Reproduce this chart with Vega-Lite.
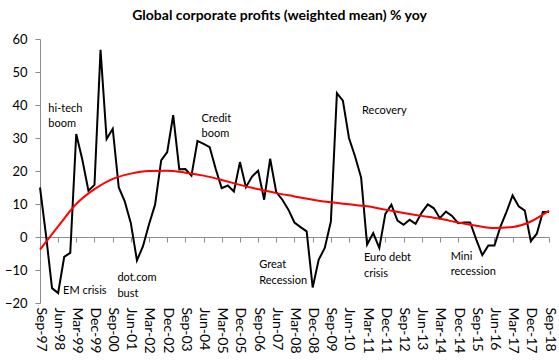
{
  "$schema": "https://vega.github.io/schema/vega-lite/v6.json",
  "autosize": "none",
  "width": 509,
  "height": 264,
  "padding": {"left": 40, "top": 39, "right": 10, "bottom": 61},
  "background": "white",
  "title": {"text": "Global corporate profits (weighted mean) % yoy", "font": "Lato", "fontSize": 14, "fontWeight": "bold", "color": "#000000", "anchor": "middle", "dx": -15, "offset": 10},
  "config": {
    "view": {"stroke": null},
    "axis": {"labelFont": "Lato", "labelColor": "#000000", "grid": false, "domainColor": "#8c8c8c", "tickColor": "#8c8c8c", "title": null},
    "axisY": {"labelFontSize": 13, "tickSize": 5, "labelPadding": 8, "domainWidth": 1, "tickWidth": 1}
  },
  "datasets": {
    "profits": [
      {"date": "1997-09-01", "value": 15.0}, {"date": "1997-12-01", "value": 0.5}, {"date": "1998-03-01", "value": -15.5}, {"date": "1998-06-01", "value": -17.0},
      {"date": "1998-09-01", "value": -6.0}, {"date": "1998-12-01", "value": -4.8}, {"date": "1999-03-01", "value": 31.2}, {"date": "1999-06-01", "value": 23.4},
      {"date": "1999-09-01", "value": 14.0}, {"date": "1999-12-01", "value": 15.8}, {"date": "2000-03-01", "value": 56.7}, {"date": "2000-06-01", "value": 29.7},
      {"date": "2000-09-01", "value": 32.8}, {"date": "2000-12-01", "value": 15.0}, {"date": "2001-03-01", "value": 10.8}, {"date": "2001-06-01", "value": 4.2},
      {"date": "2001-09-01", "value": -7.1}, {"date": "2001-12-01", "value": -2.8}, {"date": "2002-03-01", "value": 3.8}, {"date": "2002-06-01", "value": 9.8},
      {"date": "2002-09-01", "value": 23.2}, {"date": "2002-12-01", "value": 25.7}, {"date": "2003-03-01", "value": 36.9}, {"date": "2003-06-01", "value": 20.5},
      {"date": "2003-09-01", "value": 20.6}, {"date": "2003-12-01", "value": 18.6}, {"date": "2004-03-01", "value": 29.1}, {"date": "2004-06-01", "value": 28.2},
      {"date": "2004-09-01", "value": 27.2}, {"date": "2004-12-01", "value": 20.6}, {"date": "2005-03-01", "value": 14.8}, {"date": "2005-06-01", "value": 15.6},
      {"date": "2005-09-01", "value": 13.8}, {"date": "2005-12-01", "value": 22.7}, {"date": "2006-03-01", "value": 15.1}, {"date": "2006-06-01", "value": 18.3},
      {"date": "2006-09-01", "value": 20.1}, {"date": "2006-12-01", "value": 11.3}, {"date": "2007-03-01", "value": 23.7}, {"date": "2007-06-01", "value": 13.6},
      {"date": "2007-09-01", "value": 11.3}, {"date": "2007-12-01", "value": 8.3}, {"date": "2008-03-01", "value": 4.4}, {"date": "2008-06-01", "value": 3.0},
      {"date": "2008-09-01", "value": 1.7}, {"date": "2008-12-01", "value": -15.3}, {"date": "2009-03-01", "value": -6.9}, {"date": "2009-06-01", "value": -3.3},
      {"date": "2009-09-01", "value": 4.7}, {"date": "2009-12-01", "value": 43.6}, {"date": "2010-03-01", "value": 41.3}, {"date": "2010-06-01", "value": 30.0},
      {"date": "2010-09-01", "value": 24.4}, {"date": "2010-12-01", "value": 18.0}, {"date": "2011-03-01", "value": -2.3}, {"date": "2011-06-01", "value": 1.2},
      {"date": "2011-09-01", "value": -3.3}, {"date": "2011-12-01", "value": 7.0}, {"date": "2012-03-01", "value": 9.8}, {"date": "2012-06-01", "value": 5.0},
      {"date": "2012-09-01", "value": 3.7}, {"date": "2012-12-01", "value": 5.2}, {"date": "2013-03-01", "value": 4.0}, {"date": "2013-06-01", "value": 7.4},
      {"date": "2013-09-01", "value": 9.9}, {"date": "2013-12-01", "value": 8.7}, {"date": "2014-03-01", "value": 5.7}, {"date": "2014-06-01", "value": 7.7},
      {"date": "2014-09-01", "value": 6.4}, {"date": "2014-12-01", "value": 4.2}, {"date": "2015-03-01", "value": 4.4}, {"date": "2015-06-01", "value": 4.4},
      {"date": "2015-09-01", "value": -0.8}, {"date": "2015-12-01", "value": -5.5}, {"date": "2016-03-01", "value": -2.6}, {"date": "2016-06-01", "value": -2.6},
      {"date": "2016-09-01", "value": 3.2}, {"date": "2016-12-01", "value": 7.7}, {"date": "2017-03-01", "value": 12.6}, {"date": "2017-06-01", "value": 9.3},
      {"date": "2017-09-01", "value": 8.0}, {"date": "2017-12-01", "value": -1.3}, {"date": "2018-03-01", "value": 1.0}, {"date": "2018-06-01", "value": 7.6},
      {"date": "2018-09-01", "value": 7.6}
    ],
    "trend": [
      {"date": "1997-09-01", "value": -3.8}, {"date": "1998-06-01", "value": 3.2}, {"date": "1999-03-01", "value": 10.0}, {"date": "1999-12-01", "value": 14.5},
      {"date": "2000-09-01", "value": 17.6}, {"date": "2001-06-01", "value": 19.2}, {"date": "2002-03-01", "value": 20.0}, {"date": "2002-12-01", "value": 20.1},
      {"date": "2003-09-01", "value": 19.5}, {"date": "2004-06-01", "value": 18.6}, {"date": "2005-03-01", "value": 17.3}, {"date": "2005-12-01", "value": 15.8},
      {"date": "2006-09-01", "value": 14.5}, {"date": "2007-06-01", "value": 13.3}, {"date": "2008-03-01", "value": 12.3}, {"date": "2008-12-01", "value": 11.3},
      {"date": "2009-09-01", "value": 10.5}, {"date": "2010-06-01", "value": 9.9}, {"date": "2011-03-01", "value": 9.3}, {"date": "2011-12-01", "value": 8.3},
      {"date": "2012-09-01", "value": 7.3}, {"date": "2013-06-01", "value": 6.4}, {"date": "2014-03-01", "value": 5.5}, {"date": "2014-12-01", "value": 4.4},
      {"date": "2015-09-01", "value": 3.4}, {"date": "2016-06-01", "value": 2.7}, {"date": "2017-03-01", "value": 3.0}, {"date": "2017-12-01", "value": 4.7},
      {"date": "2018-09-01", "value": 8.0}
    ],
    "notes": [
      {"date": "1998-01-05", "value": 38.0, "label": "hi-tech\nboom"},
      {"date": "1998-08-15", "value": -17.2, "label": "EM crisis"},
      {"date": "2000-11-10", "value": -13.4, "label": "dot.com\nbust"},
      {"date": "2004-05-01", "value": 35.0, "label": "Credit\nboom"},
      {"date": "2006-09-18", "value": -9.4, "label": "Great\nRecession"},
      {"date": "2010-12-15", "value": 37.3, "label": "Recovery"},
      {"date": "2011-01-12", "value": -7.4, "label": "Euro debt\ncrisis"},
      {"date": "2014-08-12", "value": -6.9, "label": "Mini\nrecession"}
    ]
  },
  "resolve": {"axis": {"x": "independent"}},
  "layer": [
    {
      "data": {"name": "profits"},
      "mark": {"type": "line", "color": "#000000", "strokeWidth": 2},
      "encoding": {
        "x": {"field": "date", "type": "temporal",
          "scale": {"type": "utc", "nice": false, "domain": [{"year": 1997, "month": 9, "date": 1, "utc": true}, {"year": 2018, "month": 9, "date": 1, "utc": true}]},
          "axis": {"orient": "bottom", "offset": -66, "labels": false, "ticks": true, "tickSize": 5, "domain": true,
            "values": [
              {"year": 1997, "month": 9, "date": 1, "utc": true}, {"year": 1998, "month": 6, "date": 1, "utc": true}, {"year": 1999, "month": 3, "date": 1, "utc": true},
              {"year": 1999, "month": 12, "date": 1, "utc": true}, {"year": 2000, "month": 9, "date": 1, "utc": true}, {"year": 2001, "month": 6, "date": 1, "utc": true},
              {"year": 2002, "month": 3, "date": 1, "utc": true}, {"year": 2002, "month": 12, "date": 1, "utc": true}, {"year": 2003, "month": 9, "date": 1, "utc": true},
              {"year": 2004, "month": 6, "date": 1, "utc": true}, {"year": 2005, "month": 3, "date": 1, "utc": true}, {"year": 2005, "month": 12, "date": 1, "utc": true},
              {"year": 2006, "month": 9, "date": 1, "utc": true}, {"year": 2007, "month": 6, "date": 1, "utc": true}, {"year": 2008, "month": 3, "date": 1, "utc": true},
              {"year": 2008, "month": 12, "date": 1, "utc": true}, {"year": 2009, "month": 9, "date": 1, "utc": true}, {"year": 2010, "month": 6, "date": 1, "utc": true},
              {"year": 2011, "month": 3, "date": 1, "utc": true}, {"year": 2011, "month": 12, "date": 1, "utc": true}, {"year": 2012, "month": 9, "date": 1, "utc": true},
              {"year": 2013, "month": 6, "date": 1, "utc": true}, {"year": 2014, "month": 3, "date": 1, "utc": true}, {"year": 2014, "month": 12, "date": 1, "utc": true},
              {"year": 2015, "month": 9, "date": 1, "utc": true}, {"year": 2016, "month": 6, "date": 1, "utc": true}, {"year": 2017, "month": 3, "date": 1, "utc": true},
              {"year": 2017, "month": 12, "date": 1, "utc": true}, {"year": 2018, "month": 9, "date": 1, "utc": true}
            ]}},
        "y": {"field": "value", "type": "quantitative", "scale": {"domain": [-20, 60], "nice": false, "zero": false},
          "axis": {"values": [-20, -10, 0, 10, 20, 30, 40, 50, 60]}}
      }
    },
    {
      "data": {"name": "trend"},
      "mark": {"type": "line", "color": "#ff0000", "strokeWidth": 2, "interpolate": "monotone"},
      "encoding": {
        "x": {"field": "date", "type": "temporal",
          "axis": {"orient": "bottom", "labels": true, "ticks": false, "domain": false, "labelAngle": 90, "labelPadding": 4, "labelFontSize": 14,
            "labelExpr": "utcFormat(datum.value, '%b-%y')", "labelOverlap": false, "labelFlush": false,
            "values": [
              {"year": 1997, "month": 9, "date": 1, "utc": true}, {"year": 1998, "month": 6, "date": 1, "utc": true}, {"year": 1999, "month": 3, "date": 1, "utc": true},
              {"year": 1999, "month": 12, "date": 1, "utc": true}, {"year": 2000, "month": 9, "date": 1, "utc": true}, {"year": 2001, "month": 6, "date": 1, "utc": true},
              {"year": 2002, "month": 3, "date": 1, "utc": true}, {"year": 2002, "month": 12, "date": 1, "utc": true}, {"year": 2003, "month": 9, "date": 1, "utc": true},
              {"year": 2004, "month": 6, "date": 1, "utc": true}, {"year": 2005, "month": 3, "date": 1, "utc": true}, {"year": 2005, "month": 12, "date": 1, "utc": true},
              {"year": 2006, "month": 9, "date": 1, "utc": true}, {"year": 2007, "month": 6, "date": 1, "utc": true}, {"year": 2008, "month": 3, "date": 1, "utc": true},
              {"year": 2008, "month": 12, "date": 1, "utc": true}, {"year": 2009, "month": 9, "date": 1, "utc": true}, {"year": 2010, "month": 6, "date": 1, "utc": true},
              {"year": 2011, "month": 3, "date": 1, "utc": true}, {"year": 2011, "month": 12, "date": 1, "utc": true}, {"year": 2012, "month": 9, "date": 1, "utc": true},
              {"year": 2013, "month": 6, "date": 1, "utc": true}, {"year": 2014, "month": 3, "date": 1, "utc": true}, {"year": 2014, "month": 12, "date": 1, "utc": true},
              {"year": 2015, "month": 9, "date": 1, "utc": true}, {"year": 2016, "month": 6, "date": 1, "utc": true}, {"year": 2017, "month": 3, "date": 1, "utc": true},
              {"year": 2017, "month": 12, "date": 1, "utc": true}, {"year": 2018, "month": 9, "date": 1, "utc": true}
            ]}},
        "y": {"field": "value", "type": "quantitative", "axis": {"values": [-20, -10, 0, 10, 20, 30, 40, 50, 60]}}
      }
    },
    {
      "data": {"name": "notes"},
      "mark": {"type": "text", "font": "Lato", "fontSize": 11, "color": "#000000", "align": "left", "baseline": "alphabetic", "lineBreak": "\n", "lineHeight": 15.5},
      "encoding": {
        "x": {"field": "date", "type": "temporal", "axis": null},
        "y": {"field": "value", "type": "quantitative", "axis": {"values": [-20, -10, 0, 10, 20, 30, 40, 50, 60]}},
        "text": {"field": "label", "type": "nominal"}
      }
    }
  ]
}
